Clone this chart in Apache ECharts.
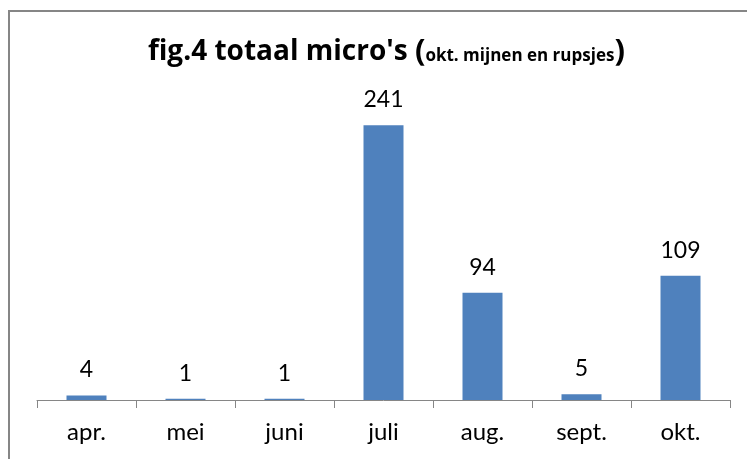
<!DOCTYPE html>
<html>
<head>
<meta charset="utf-8">
<script src="https://cdn.jsdelivr.net/npm/echarts@6/dist/echarts.min.js"></script>
<style>
  html, body { margin: 0; padding: 0; background: #fff; }
  #chart { width: 747px; height: 459px; }
</style>
</head>
<body>
<div id="chart"></div>
<script>
var months = ["apr.", "mei", "juni", "juli", "aug.", "sept.", "okt."];
var totals = [4, 1, 1, 241, 94, 5, 109];

var chart = echarts.init(document.getElementById("chart"));
chart.setOption({
  animation: false,
  title: {
    text: "{big|fig.4 totaal micro's }{par|(}{small|okt. mijnen en rupsjes}{par|)}",
    left: 143,
    top: 32,
    textStyle: {
      rich: {
        big: { fontFamily: "Open Sans", fontWeight: "bold", fontSize: 28, color: "#000" },
        small: { fontFamily: "Open Sans", fontWeight: "bold", fontSize: 17, color: "#000", padding: [7, 0, 0, 0] },
        par: { fontFamily: "Open Sans", fontWeight: "bold", fontSize: 31, color: "#000" }
      }
    }
  },
  graphic: [{
    type: "rect",
    shape: { x: 9, y: 11, width: 760, height: 470 },
    style: { fill: "none", stroke: "#868686", lineWidth: 2 },
    silent: true
  }],
  grid: { left: 37, right: 17, top: 58, bottom: 59 },
  xAxis: {
    type: "category",
    data: months,
    axisLine: { lineStyle: { color: "#868686", width: 1 } },
    axisTick: { show: true, length: 8, lineStyle: { color: "#868686" } },
    axisLabel: { fontFamily: "Lato", fontSize: 24, color: "#000", margin: 20 }
  },
  yAxis: {
    type: "value",
    min: 0,
    max: 300,
    show: false,
    splitLine: { show: false }
  },
  series: [{
    type: "bar",
    data: totals,
    barWidth: 40,
    itemStyle: { color: "#4F81BD" },
    label: {
      show: true,
      position: "top",
      distance: 14,
      fontFamily: "Lato",
      fontSize: 23,
      color: "#000"
    }
  }]
});
</script>
</body>
</html>
